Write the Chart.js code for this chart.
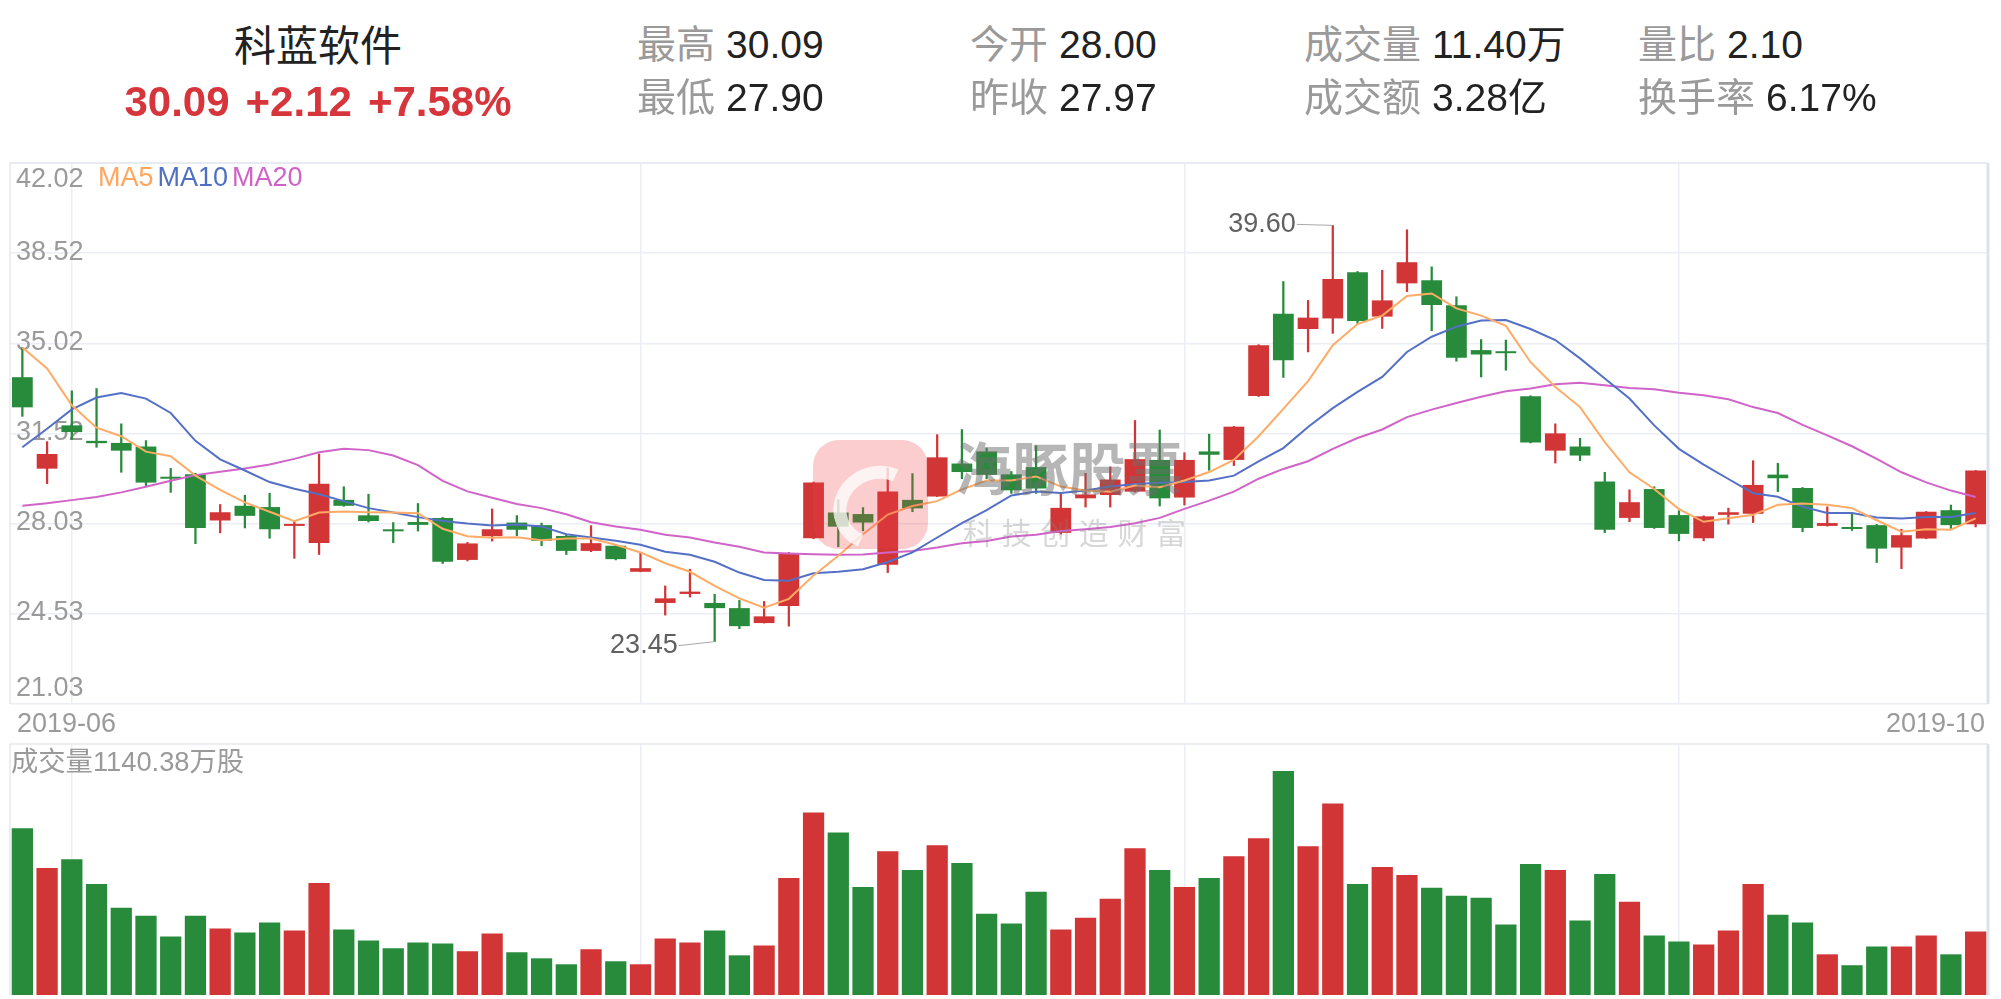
<!DOCTYPE html>
<html>
<head>
<meta charset="utf-8">
<script src="https://cdn.jsdelivr.net/npm/chart.js@4/dist/chart.umd.min.js"></script>
<style>
  body { margin: 0; width: 2001px; height: 999px; background: #fff; position: relative; overflow: hidden;
         font-family: "Liberation Sans", Arial, "Noto Sans CJK SC", sans-serif; }
  canvas { position: absolute; left: 0; }
  #klineChart { top: 125px; }
  #volChart { top: 740px; }
  .txt { position: absolute; white-space: nowrap; }
  .title { left: 118px; width: 400px; top: 22px; line-height: 50px; text-align: center; font-size: 42px; color: #222; }
  .quote { left: 68px; width: 500px; top: 77px; line-height: 50px; text-align: center; font-size: 42px; font-weight: bold; color: #d6363b; }
  .quote span { margin: 0 8px; }
  .stat { line-height: 50px; font-size: 39px; color: #222; }
  .stat b { font-weight: normal; color: #9a9a9a; margin-right: 11px; }
  .legend { left: 98px; top: 162px; line-height: 30px; font-size: 27px; }
  .legend span { margin-right: 4px; }
  .volTitle { left: 11px; top: 747px; line-height: 30px; font-size: 27.3px; color: #9a9a9a; }
  .wm-logo { position: absolute; left: 813px; top: 440px; width: 115px; height: 109px; border-radius: 26px;
             background: rgba(240, 60, 70, 0.26); overflow: hidden; }
  .wm-logo::after { content: ""; position: absolute; left: 20px; top: 26px; width: 64px; height: 58px; border-radius: 50%;
                    border: 13px solid rgba(255, 255, 255, 0.75); border-right-color: transparent; border-bottom-color: transparent;
                    transform: rotate(-20deg); }
  .wm-text { left: 955px; top: 434px; line-height: 72px; font-size: 57px; font-weight: bold; color: rgba(110, 110, 110, 0.5); }
  .wm-sub { left: 963px; top: 515px; line-height: 38px; font-size: 30px; letter-spacing: 8.6px; color: rgba(130, 130, 130, 0.32); }
</style>
</head>
<body>

<canvas id="klineChart" width="2001" height="615"></canvas>
<canvas id="volChart" width="2001" height="259"></canvas>

<div class="txt title">科蓝软件</div>
<div class="txt quote"><span>30.09</span><span>+2.12</span><span>+7.58%</span></div>

<div class="txt stat" style="left:637px; top:20px"><b>最高</b>30.09</div>
<div class="txt stat" style="left:637px; top:73px"><b>最低</b>27.90</div>
<div class="txt stat" style="left:970px; top:20px"><b>今开</b>28.00</div>
<div class="txt stat" style="left:970px; top:73px"><b>昨收</b>27.97</div>
<div class="txt stat" style="left:1304px; top:20px"><b>成交量</b>11.40万</div>
<div class="txt stat" style="left:1304px; top:73px"><b>成交额</b>3.28亿</div>
<div class="txt stat" style="left:1638px; top:20px"><b>量比</b>2.10</div>
<div class="txt stat" style="left:1638px; top:73px"><b>换手率</b>6.17%</div>

<div class="txt legend"><span style="color:#ffa65f">MA5</span><span style="color:#4f6fc4">MA10</span><span style="color:#cf62c6">MA20</span></div>
<div class="txt volTitle">成交量1140.38万股</div>

<div class="wm-logo"></div>
<div class="txt wm-text">海豚股票</div>
<div class="txt wm-sub">科技创造财富</div>

<script>
//! Data >>

const dates = [
  "2019-06-27", "2019-06-28",
  "2019-07-01", "2019-07-02", "2019-07-03", "2019-07-04", "2019-07-05", "2019-07-08", "2019-07-09", "2019-07-10",
  "2019-07-11", "2019-07-12", "2019-07-15", "2019-07-16", "2019-07-17", "2019-07-18", "2019-07-19", "2019-07-22",
  "2019-07-23", "2019-07-24", "2019-07-25", "2019-07-26", "2019-07-29", "2019-07-30", "2019-07-31",
  "2019-08-01", "2019-08-02", "2019-08-05", "2019-08-06", "2019-08-07", "2019-08-08", "2019-08-09", "2019-08-12",
  "2019-08-13", "2019-08-14", "2019-08-15", "2019-08-16", "2019-08-19", "2019-08-20", "2019-08-21", "2019-08-22",
  "2019-08-23", "2019-08-26", "2019-08-27", "2019-08-28", "2019-08-29", "2019-08-30",
  "2019-09-02", "2019-09-03", "2019-09-04", "2019-09-05", "2019-09-06", "2019-09-09", "2019-09-10", "2019-09-11",
  "2019-09-12", "2019-09-16", "2019-09-17", "2019-09-18", "2019-09-19", "2019-09-20", "2019-09-23", "2019-09-24",
  "2019-09-25", "2019-09-26", "2019-09-27", "2019-09-30",
  "2019-10-08", "2019-10-09", "2019-10-10", "2019-10-11", "2019-10-14", "2019-10-15", "2019-10-16", "2019-10-17",
  "2019-10-18", "2019-10-21", "2019-10-22", "2019-10-23", "2019-10-24"
];

const opens = [
  33.71, 30.16, 31.84, 31.24, 31.16, 31.02, 29.84, 29.94, 28.15, 28.72,
  28.67, 27.94, 27.28, 28.95, 28.35, 27.74, 28.09, 28.25, 26.62, 27.54,
  28.07, 27.97, 27.55, 26.97, 27.17, 26.16, 24.95, 25.30, 24.95, 24.75,
  24.17, 24.83, 27.46, 28.46, 28.40, 26.43, 28.95, 29.08, 30.36, 30.83,
  29.94, 30.22, 27.67, 29.01, 29.14, 29.27, 30.50, 29.04, 30.83, 30.50,
  32.98, 36.17, 35.58, 35.99, 37.78, 36.06, 37.35, 37.47, 36.50, 34.76,
  34.66, 32.97, 30.86, 31.02, 29.66, 28.25, 29.37, 28.36, 27.46, 28.37,
  28.41, 29.93, 29.41, 27.94, 27.84, 27.97, 27.10, 27.45, 28.55, 28.00
];
const closes = [
  32.54, 30.73, 31.58, 31.15, 30.86, 29.62, 29.77, 27.86, 28.47, 28.33,
  27.81, 27.96, 29.58, 28.72, 28.13, 27.73, 27.98, 26.55, 27.26, 27.81,
  27.79, 27.36, 26.97, 27.27, 26.65, 26.30, 25.13, 25.39, 24.75, 24.05,
  24.43, 26.85, 29.62, 27.91, 28.07, 29.27, 28.62, 30.60, 30.03, 29.92,
  29.32, 29.39, 28.64, 29.16, 29.74, 30.53, 29.01, 30.50, 30.70, 31.79,
  34.95, 34.37, 36.02, 37.52, 35.89, 36.69, 38.17, 36.51, 34.46, 34.59,
  34.64, 31.18, 31.53, 30.67, 27.79, 28.86, 27.86, 27.63, 28.31, 28.47,
  29.53, 29.79, 27.86, 28.05, 27.82, 27.06, 27.58, 28.49, 27.97, 30.09
];
const highs = [
  34.86, 31.21, 33.18, 33.27, 31.90, 31.25, 30.17, 29.98, 28.77, 29.13,
  29.21, 28.13, 30.73, 29.46, 29.17, 28.07, 28.81, 28.27, 27.30, 28.60,
  28.34, 28.05, 27.58, 27.95, 27.18, 26.88, 25.61, 26.26, 25.29, 25.05,
  25.01, 26.91, 29.64, 28.95, 28.65, 30.18, 29.97, 31.48, 31.68, 30.96,
  30.05, 31.05, 29.19, 29.98, 30.23, 32.03, 31.66, 30.78, 31.50, 31.80,
  34.97, 37.42, 36.69, 39.60, 37.81, 37.86, 39.43, 37.99, 36.83, 35.17,
  35.15, 32.99, 31.90, 31.34, 30.02, 29.34, 29.46, 28.53, 28.33, 28.63,
  30.47, 30.37, 29.43, 28.68, 28.43, 28.00, 27.81, 28.50, 28.75, 30.09
];
const lows = [
  32.19, 29.58, 31.29, 30.99, 30.02, 29.50, 29.24, 27.25, 27.67, 27.86,
  27.46, 26.68, 26.83, 28.70, 28.09, 27.29, 27.74, 26.48, 26.58, 27.35,
  27.56, 27.17, 26.83, 26.94, 26.62, 26.16, 24.48, 25.18, 23.45, 23.95,
  24.17, 24.05, 27.44, 27.13, 27.75, 26.13, 28.49, 29.08, 29.77, 29.77,
  29.20, 29.20, 27.62, 28.67, 28.67, 29.25, 28.71, 28.75, 30.10, 30.28,
  32.96, 33.70, 34.69, 35.41, 35.80, 35.60, 37.03, 35.51, 34.33, 33.72,
  33.98, 31.16, 30.38, 30.47, 27.68, 28.10, 27.84, 27.36, 27.36, 28.01,
  28.07, 29.27, 27.71, 27.93, 27.76, 26.52, 26.28, 27.44, 27.84, 27.90
];

const ma5 = [
  34.86, 34.05, 32.62, 31.75, 31.42, 30.82, 30.64, 29.89, 29.34, 28.85,
  28.49, 28.12, 28.46, 28.50, 28.47, 28.46, 28.43, 27.83, 27.54, 27.48,
  27.50, 27.38, 27.45, 27.45, 27.21, 26.91, 26.49, 26.16, 25.61, 25.13,
  24.77, 25.11, 26.02, 26.78, 27.62, 28.38, 28.71, 28.90, 29.36, 29.70,
  29.70, 29.86, 29.47, 29.31, 29.27, 29.51, 29.44, 29.70, 30.03, 30.50,
  31.42, 32.48, 33.56, 34.95, 35.77, 36.10, 36.86, 36.96, 36.38, 36.10,
  35.70, 34.29, 33.33, 32.55, 31.19, 30.02, 29.37, 28.59, 28.10, 28.24,
  28.37, 28.76, 28.81, 28.76, 28.63, 28.16, 27.71, 27.81, 27.79, 28.23
];
const ma10 = [
  30.99, 31.71, 32.46, 32.92, 33.10, 32.88, 32.32, 31.24, 30.52, 30.09,
  29.64, 29.38, 29.17, 28.90, 28.63, 28.46, 28.28, 28.13, 28.03, 27.96,
  27.99, 27.92, 27.62, 27.49, 27.36, 27.21, 26.94, 26.82, 26.55, 26.13,
  25.84, 25.81, 26.10, 26.16, 26.26, 26.54, 26.91, 27.49, 28.05, 28.55,
  29.12, 29.27, 29.22, 29.31, 29.47, 29.57, 29.61, 29.64, 29.70, 29.89,
  30.44, 30.96, 31.78, 32.51, 33.14, 33.72, 34.69, 35.28, 35.67, 35.91,
  35.93, 35.58, 35.15, 34.44, 33.66, 32.88, 31.84, 30.93, 30.32, 29.76,
  29.21, 29.07, 28.68, 28.44, 28.44, 28.27, 28.23, 28.29, 28.29, 28.44
];
const ma20 = [
  28.72, 28.82, 28.94, 29.06, 29.24, 29.46, 29.69, 29.91, 30.04, 30.17,
  30.32, 30.54, 30.80, 30.93, 30.88, 30.67, 30.30, 29.69, 29.28, 29.03,
  28.79, 28.63, 28.39, 28.08, 27.92, 27.79, 27.60, 27.49, 27.30, 27.13,
  26.91, 26.87, 26.84, 26.82, 26.83, 26.91, 26.97, 27.10, 27.27, 27.35,
  27.53, 27.60, 27.74, 27.81, 27.90, 28.04, 28.25, 28.60, 28.92, 29.27,
  29.77, 30.15, 30.45, 30.93, 31.35, 31.68, 32.16, 32.45, 32.71, 32.95,
  33.16, 33.27, 33.44, 33.49, 33.40, 33.29, 33.24, 33.11, 33.01, 32.85,
  32.55, 32.32, 31.86, 31.45, 31.03, 30.54, 30.02, 29.63, 29.31, 29.06
];

// 万股
const volumes = [
  2994, 2281, 2441, 1996, 1568, 1426, 1051, 1426, 1194, 1123,
  1301, 1158, 2014, 1176, 980, 838, 944, 927, 784, 1105,
  766, 659, 552, 820, 606, 552, 1016, 944, 1158, 713,
  891, 2103, 3279, 2922, 1942, 2584, 2245, 2691, 2370, 1461,
  1283, 1853, 1176, 1390, 1729, 2637, 2245, 1942, 2103, 2495,
  2816, 4027, 2673, 3439, 1996, 2299, 2156, 1925, 1782, 1746,
  1265, 2352, 2245, 1337, 2174, 1675, 1069, 962, 909, 1158,
  1996, 1443, 1301, 731, 535, 873, 873, 1069, 731, 1140.38
];

const priceTicks = [42.02, 38.52, 35.02, 31.52, 28.03, 24.53, 21.03];
const volAxisMax = 4510;

//! Styles >>

const UP = "#d23535";
const DOWN = "#278b3b";
const GRID = "#eceef5";
const FONT = '27px "Liberation Sans", Arial, sans-serif';

const candleColors = opens.map((o, i) => closes[i] >= o ? UP : DOWN);

function isMonthStart(i) {
  return i > 0 && dates[i].slice(0, 7) !== dates[i - 1].slice(0, 7);
}

function xAxis() {
  return {
    type: "category",
    offset: true,
    ticks: { display: false, autoSkip: false },
    grid: {
      offset: false,
      drawTicks: false,
      lineWidth: 1.5,
      color: ctx => isMonthStart(ctx.index) ? GRID : "transparent"
    },
    border: { display: false },
    afterFit: ax => { ax.height = 0; }
  };
}

//! Plugins >>

const framePlugin = {
  id: "frame",
  beforeDatasetsDraw(chart) {
    const { ctx, chartArea: a } = chart;
    ctx.save();
    ctx.strokeStyle = "#e6e9f1";
    ctx.lineWidth = 1.5;
    ctx.beginPath();
    ctx.moveTo(a.left, a.bottom);
    ctx.lineTo(a.left, a.top);
    ctx.lineTo(a.right, a.top);
    ctx.stroke();
    ctx.strokeStyle = "#dde1ec";
    ctx.lineWidth = 3;
    ctx.beginPath();
    ctx.moveTo(a.right, a.top);
    ctx.lineTo(a.right, a.bottom);
    ctx.stroke();
    ctx.restore();
  }
};

const priceLabels = {
  id: "priceLabels",
  beforeDatasetsDraw(chart) {
    const { ctx, chartArea: a } = chart;
    const y = chart.scales.y;
    ctx.save();
    ctx.font = FONT;
    ctx.fillStyle = "#9a9a9a";
    ctx.textAlign = "left";
    priceTicks.forEach((v, i) => {
      let py = y.getPixelForValue(v);
      if (i === 0) { ctx.textBaseline = "top"; py += 3; }
      else if (i === priceTicks.length - 1) { ctx.textBaseline = "bottom"; py -= 2; }
      else { ctx.textBaseline = "middle"; py -= 1; }
      ctx.fillText(v.toFixed(2), a.left + 6, py);
    });
    ctx.restore();
  },
  afterDraw(chart) {
    const { ctx, chartArea: a } = chart;
    ctx.save();
    ctx.font = FONT;
    ctx.fillStyle = "#9a9a9a";
    ctx.textBaseline = "middle";
    ctx.textAlign = "left";
    ctx.fillText(dates[0].slice(0, 7), a.left + 7, a.bottom + 21);
    ctx.textAlign = "right";
    ctx.fillText(dates[dates.length - 1].slice(0, 7), a.right - 3, a.bottom + 21);
    ctx.restore();
  }
};

const extremes = {
  id: "extremes",
  afterDatasetsDraw(chart) {
    const { ctx } = chart;
    const { x, y } = chart.scales;
    const hi = highs.indexOf(Math.max(...highs));
    const lo = lows.indexOf(Math.min(...lows));
    ctx.save();
    ctx.font = FONT;
    ctx.fillStyle = "#606060";
    ctx.strokeStyle = "#a8a8a8";
    ctx.lineWidth = 1;
    [[hi, highs[hi], -1], [lo, lows[lo], 4]].forEach(([i, v, dy]) => {
      const px = x.getPixelForValue(i);
      const py = y.getPixelForValue(v);
      const tx = px - 37;
      ctx.beginPath();
      ctx.moveTo(tx + 1, py + dy);
      ctx.lineTo(px, py);
      ctx.stroke();
      ctx.textAlign = "right";
      ctx.textBaseline = "middle";
      ctx.fillText(v.toFixed(2), tx, py + dy);
    });
    ctx.restore();
  }
};

//! K-line chart >>

function maLine(label, data, color) {
  return {
    type: "line", label, data,
    borderColor: color, borderWidth: 2,
    pointRadius: 0, tension: 0, order: 0
  };
}

new Chart("klineChart", {
  type: "bar",
  data: {
    labels: dates,
    datasets: [
      maLine("MA5", ma5, "#ffab66"),
      maLine("MA10", ma10, "#5470c6"),
      maLine("MA20", ma20, "#d064c8"),
      {
        label: "body",
        data: opens.map((o, i) => [o, closes[i]]),
        backgroundColor: candleColors,
        barPercentage: 0.84,
        categoryPercentage: 1,
        minBarLength: 2,
        grouped: false,
        order: 1
      },
      {
        label: "wick",
        data: lows.map((l, i) => [l, highs[i]]),
        backgroundColor: candleColors,
        barThickness: 1.6,
        grouped: false,
        order: 2
      }
    ]
  },
  options: {
    responsive: false,
    devicePixelRatio: 1,
    animation: false,
    events: [],
    layout: { padding: { left: 10, right: 13, top: 38, bottom: 36 } },
    plugins: { legend: { display: false }, tooltip: { enabled: false } },
    scales: {
      x: xAxis(),
      y: {
        type: "linear",
        min: 21.03,
        max: 42.02,
        afterBuildTicks: ax => { ax.ticks = priceTicks.map(v => ({ value: v })); },
        ticks: { display: false },
        grid: { color: GRID, lineWidth: 1.5, drawTicks: false },
        border: { display: false },
        afterFit: ax => { ax.width = 0; }
      }
    }
  },
  plugins: [framePlugin, priceLabels, extremes]
});

//! Volume chart >>

new Chart("volChart", {
  type: "bar",
  data: {
    labels: dates,
    datasets: [{
      label: "成交量",
      data: volumes,
      backgroundColor: candleColors,
      barPercentage: 0.86,
      categoryPercentage: 1
    }]
  },
  options: {
    responsive: false,
    devicePixelRatio: 1,
    animation: false,
    events: [],
    layout: { padding: { left: 10, right: 13, top: 4, bottom: 4 } },
    plugins: { legend: { display: false }, tooltip: { enabled: false } },
    scales: {
      x: xAxis(),
      y: {
        min: 0,
        max: volAxisMax,
        ticks: { display: false },
        grid: { display: false },
        border: { display: false },
        afterFit: ax => { ax.width = 0; }
      }
    }
  },
  plugins: [framePlugin]
});
</script>
</body>
</html>
